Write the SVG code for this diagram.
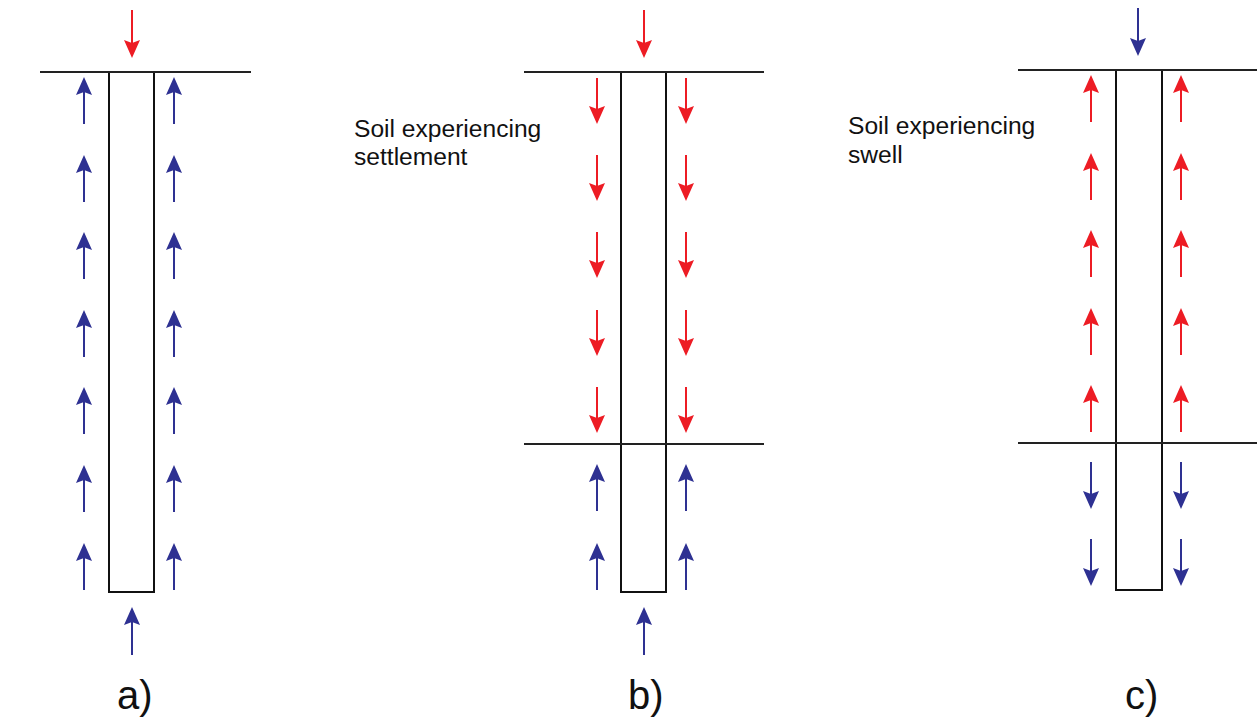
<svg xmlns="http://www.w3.org/2000/svg" width="1257" height="721" viewBox="0 0 1257 721">
<defs>
<style>
.ground{stroke:#222;stroke-width:2;fill:none}
.pile{stroke:#111;stroke-width:2;fill:#fff}
.r{stroke:#ED1C24;stroke-width:2;fill:none;marker-end:url(#hr)}
.b{stroke:#2E3192;stroke-width:2;fill:none;marker-end:url(#hb)}
.lbl{font-family:"Liberation Sans",Arial,sans-serif;font-size:40px;fill:#111}
.txt{font-family:"Liberation Sans",Arial,sans-serif;font-size:24.6px;fill:#111}
</style>
<marker id="hr" viewBox="0 0 18 16" refX="10" refY="8" markerWidth="18" markerHeight="16" markerUnits="userSpaceOnUse" orient="auto"><path d="M0,0 L18,8 L0,16 L3,8 Z" fill="#ED1C24"/></marker>
<marker id="hb" viewBox="0 0 18 16" refX="10" refY="8" markerWidth="18" markerHeight="16" markerUnits="userSpaceOnUse" orient="auto"><path d="M0,0 L18,8 L0,16 L3,8 Z" fill="#2E3192"/></marker>
</defs>
<rect width="1257" height="721" fill="#fff"/>

<g id="pile-a"><rect class="pile" x="109" y="72" width="45" height="520"/></g>
<g id="ground-a"><line class="ground" x1="40" y1="72" x2="251" y2="72"/></g>
<g id="label-a"><text class="lbl" x="117" y="709">a)</text></g>

<g id="pile-b"><rect class="pile" x="621" y="72" width="45" height="520"/></g>
<g id="ground-b"><line class="ground" x1="524" y1="72" x2="764" y2="72"/><line class="ground" x1="524" y1="444" x2="764" y2="444"/></g>
<g id="text-b"><text class="txt" x="354" y="137">Soil experiencing</text><text class="txt" x="354" y="165">settlement</text></g>
<g id="label-b"><text class="lbl" x="628" y="709">b)</text></g>

<g id="pile-c"><rect class="pile" x="1116" y="70" width="46" height="520"/></g>
<g id="ground-c"><line class="ground" x1="1018" y1="70" x2="1257" y2="70"/><line class="ground" x1="1018" y1="443" x2="1257" y2="443"/></g>
<g id="text-c"><text class="txt" x="848" y="134">Soil experiencing</text><text class="txt" x="848" y="163">swell</text></g>
<g id="label-c"><text class="lbl" x="1125" y="709">c)</text></g>

<g id="connectors">
<!-- a -->
<line class="r" x1="132" y1="10" x2="132" y2="50"/>
<line class="b" x1="84" y1="124" x2="84" y2="85"/>
<line class="b" x1="84" y1="202" x2="84" y2="163"/>
<line class="b" x1="84" y1="279" x2="84" y2="240"/>
<line class="b" x1="84" y1="357" x2="84" y2="318"/>
<line class="b" x1="84" y1="434" x2="84" y2="395"/>
<line class="b" x1="84" y1="512" x2="84" y2="473"/>
<line class="b" x1="84" y1="590" x2="84" y2="551"/>
<line class="b" x1="174" y1="124" x2="174" y2="85"/>
<line class="b" x1="174" y1="202" x2="174" y2="163"/>
<line class="b" x1="174" y1="279" x2="174" y2="240"/>
<line class="b" x1="174" y1="357" x2="174" y2="318"/>
<line class="b" x1="174" y1="434" x2="174" y2="395"/>
<line class="b" x1="174" y1="512" x2="174" y2="473"/>
<line class="b" x1="174" y1="590" x2="174" y2="551"/>
<line class="b" x1="132" y1="655" x2="132" y2="615"/>
<!-- b -->
<line class="r" x1="644" y1="10" x2="644" y2="50"/>
<line class="r" x1="597" y1="78" x2="597" y2="116"/>
<line class="r" x1="597" y1="155" x2="597" y2="193"/>
<line class="r" x1="597" y1="232" x2="597" y2="270"/>
<line class="r" x1="597" y1="310" x2="597" y2="348"/>
<line class="r" x1="597" y1="387" x2="597" y2="425"/>
<line class="r" x1="686" y1="78" x2="686" y2="116"/>
<line class="r" x1="686" y1="155" x2="686" y2="193"/>
<line class="r" x1="686" y1="232" x2="686" y2="270"/>
<line class="r" x1="686" y1="310" x2="686" y2="348"/>
<line class="r" x1="686" y1="387" x2="686" y2="425"/>
<line class="b" x1="597" y1="511" x2="597" y2="472"/>
<line class="b" x1="597" y1="590" x2="597" y2="551"/>
<line class="b" x1="686" y1="511" x2="686" y2="472"/>
<line class="b" x1="686" y1="590" x2="686" y2="551"/>
<line class="b" x1="644" y1="655" x2="644" y2="615"/>
<!-- c -->
<line class="b" x1="1138" y1="8" x2="1138" y2="48"/>
<line class="r" x1="1091" y1="122" x2="1091" y2="83"/>
<line class="r" x1="1091" y1="200" x2="1091" y2="161"/>
<line class="r" x1="1091" y1="277" x2="1091" y2="238"/>
<line class="r" x1="1091" y1="355" x2="1091" y2="316"/>
<line class="r" x1="1091" y1="432" x2="1091" y2="393"/>
<line class="r" x1="1181" y1="122" x2="1181" y2="83"/>
<line class="r" x1="1181" y1="200" x2="1181" y2="161"/>
<line class="r" x1="1181" y1="277" x2="1181" y2="238"/>
<line class="r" x1="1181" y1="355" x2="1181" y2="316"/>
<line class="r" x1="1181" y1="432" x2="1181" y2="393"/>
<line class="b" x1="1091" y1="462" x2="1091" y2="501"/>
<line class="b" x1="1091" y1="539" x2="1091" y2="578"/>
<line class="b" x1="1181" y1="462" x2="1181" y2="501"/>
<line class="b" x1="1181" y1="539" x2="1181" y2="578"/>
</g>
</svg>
